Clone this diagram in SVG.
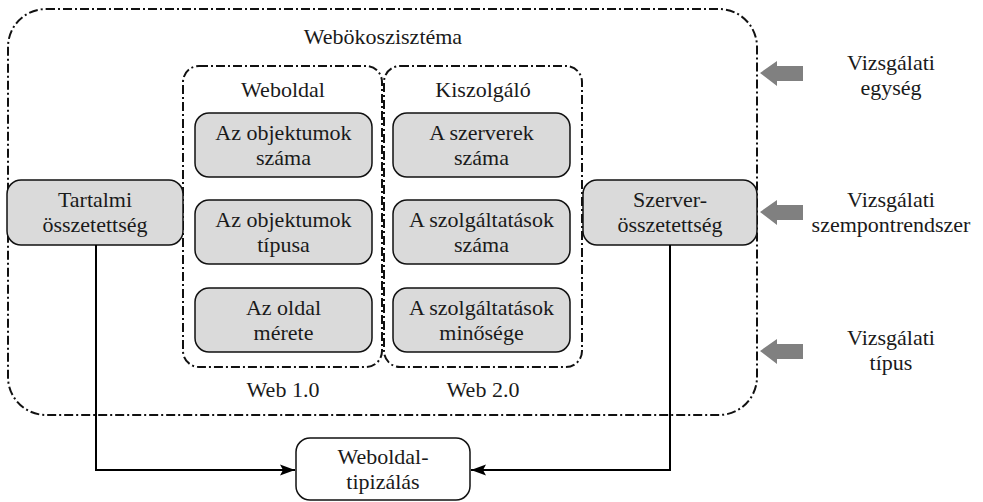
<svg xmlns="http://www.w3.org/2000/svg" width="983" height="502" viewBox="0 0 983 502">
<defs>
<style>
text{font-family:"Liberation Serif","DejaVu Serif",serif;font-size:22px;fill:#1a1a1a;text-anchor:middle}
.dd{fill:none;stroke:#111;stroke-width:2;stroke-dasharray:9 3 2 3}
.node rect{fill:#dadada;stroke:#111;stroke-width:1.5}
.wnode rect{fill:#fff;stroke:#111;stroke-width:1.5}
.conn{fill:none;stroke:#000;stroke-width:2}
.garrow{fill:#808080}
</style>
<marker id="ah" markerUnits="userSpaceOnUse" markerWidth="16" markerHeight="12" refX="15" refY="6" orient="auto">
<path d="M0,0.5 L15,6 L0,11.5 L3,6 z" fill="#000"/>
</marker>
</defs>
<rect width="983" height="502" fill="#fff"/>

<g id="ecosystem">
<rect class="dd" x="8" y="9" width="749" height="406" rx="38"/>
<text x="383" y="44">Webökoszisztéma</text>
</g>
<g id="weboldal-group">
<rect class="dd" x="183" y="66" width="199" height="301" rx="16"/>
<text x="283" y="97">Weboldal</text>
<text x="283" y="397">Web 1.0</text>
</g>
<g id="kiszolgalo-group">
<rect class="dd" x="384" y="66" width="198" height="301" rx="16"/>
<text x="483" y="97">Kiszolgáló</text>
<text x="483" y="397">Web 2.0</text>
</g>

<g id="n-obj-szama" class="node">
<rect x="195" y="113" width="177" height="64" rx="14"/>
<text x="283.5" y="140">Az objektumok</text>
<text x="283.5" y="165">száma</text>
</g>
<g id="n-obj-tipusa" class="node">
<rect x="195" y="200" width="177" height="64" rx="14"/>
<text x="283.5" y="227">Az objektumok</text>
<text x="283.5" y="252">típusa</text>
</g>
<g id="n-oldal-merete" class="node">
<rect x="195" y="288" width="177" height="64" rx="14"/>
<text x="283.5" y="315">Az oldal</text>
<text x="283.5" y="340">mérete</text>
</g>
<g id="n-szerverek" class="node">
<rect x="393" y="113" width="177" height="64" rx="14"/>
<text x="481.5" y="140">A szerverek</text>
<text x="481.5" y="165">száma</text>
</g>
<g id="n-szolg-szama" class="node">
<rect x="393" y="200" width="177" height="64" rx="14"/>
<text x="481.5" y="227">A szolgáltatások</text>
<text x="481.5" y="252">száma</text>
</g>
<g id="n-szolg-minosege" class="node">
<rect x="393" y="288" width="177" height="64" rx="14"/>
<text x="481.5" y="315">A szolgáltatások</text>
<text x="481.5" y="340">minősége</text>
</g>

<g id="n-tartalmi" class="node">
<rect x="7" y="180" width="176" height="65" rx="14"/>
<text x="95" y="207">Tartalmi</text>
<text x="95" y="232">összetettség</text>
</g>
<g id="n-szerver" class="node">
<rect x="583" y="180" width="174" height="65" rx="14"/>
<text x="670" y="207">Szerver-</text>
<text x="670" y="232">összetettség</text>
</g>

<g id="connectors">
<path class="conn" d="M96,245 V470 H295" marker-end="url(#ah)"/>
<path class="conn" d="M670,245 V470 H471" marker-end="url(#ah)"/>
</g>

<g id="n-tipizalas" class="wnode">
<rect x="296" y="438" width="174" height="62" rx="14"/>
<text x="383" y="464">Weboldal-</text>
<text x="383" y="489">tipizálás</text>
</g>

<g id="side-labels">
<path class="garrow" d="M760,73 L777,61 L777,66 L803,66 L803,81 L777,81 L777,86 z"/>
<path class="garrow" d="M760,212 L777,200 L777,205 L803,205 L803,220 L777,220 L777,225 z"/>
<path class="garrow" d="M760,351 L777,339 L777,344 L803,344 L803,359 L777,359 L777,364 z"/>
<text x="891" y="70">Vizsgálati</text>
<text x="891" y="95">egység</text>
<text x="891" y="207">Vizsgálati</text>
<text x="891" y="232">szempontrendszer</text>
<text x="891" y="345">Vizsgálati</text>
<text x="891" y="370">típus</text>
</g>
</svg>
